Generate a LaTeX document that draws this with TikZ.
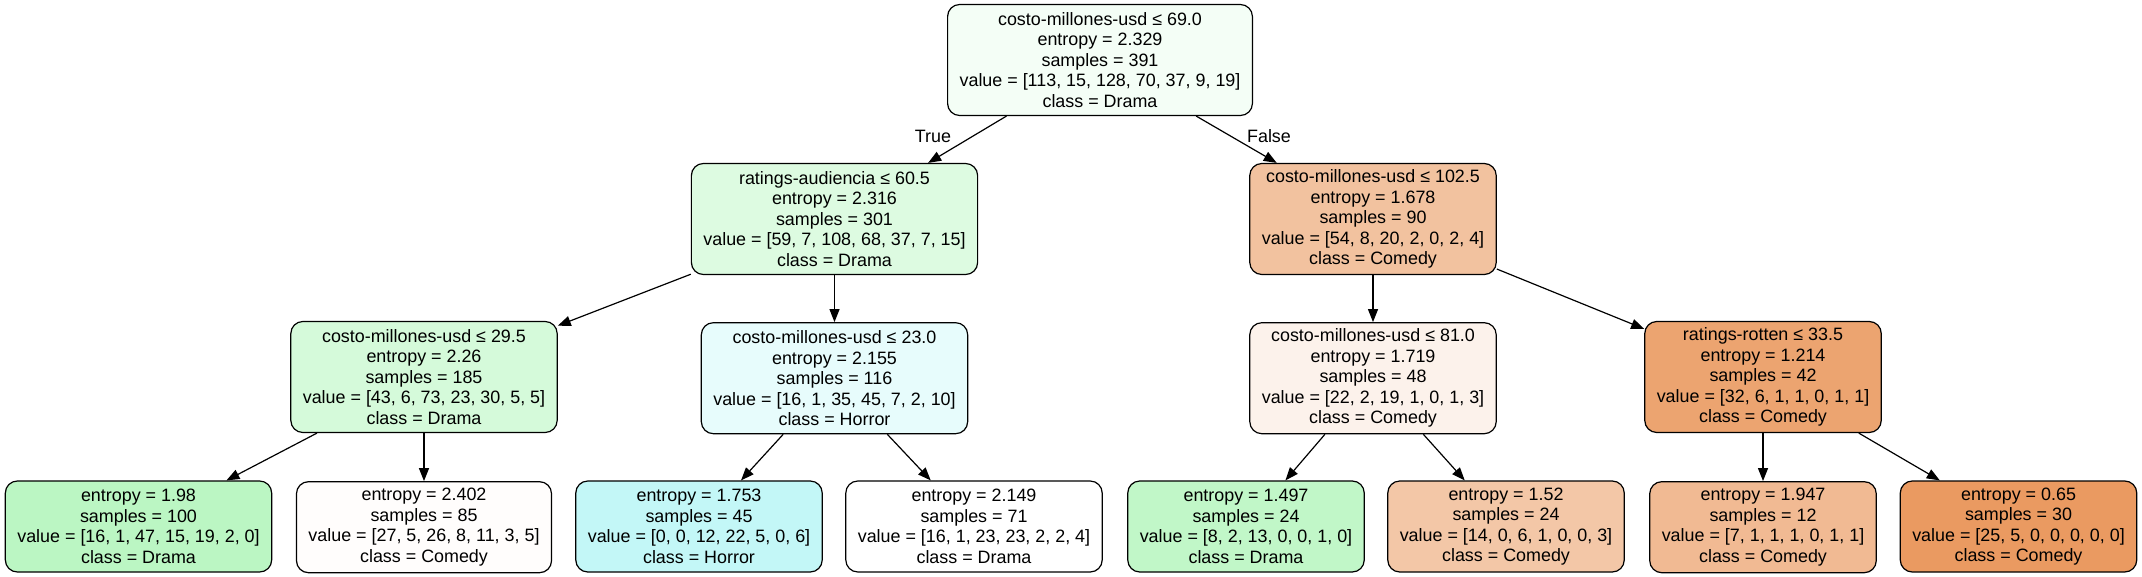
\documentclass[tikz,border=0pt]{standalone}
\usepackage{fontspec}
\setmainfont{Liberation Sans}
\usetikzlibrary{positioning,arrows.meta}
\definecolor{rootfill}{RGB}{244,254,246}
\definecolor{ratingsfill}{RGB}{221,251,225}
\definecolor{costoAfill}{RGB}{242,194,159}
\definecolor{costoBfill}{RGB}{213,250,218}
\definecolor{costoCfill}{RGB}{231,252,252}
\definecolor{costoDfill}{RGB}{252,242,235}
\definecolor{rottenfill}{RGB}{236,164,112}
\definecolor{leafAfill}{RGB}{187,246,195}
\definecolor{leafBfill}{RGB}{255,253,252}
\definecolor{leafCfill}{RGB}{195,247,247}
\definecolor{leafDfill}{RGB}{255,255,255}
\definecolor{leafEfill}{RGB}{193,247,200}
\definecolor{leafFfill}{RGB}{243,199,167}
\definecolor{leafGfill}{RGB}{241,186,147}
\definecolor{leafHfill}{RGB}{234,154,97}

\begin{document}
\begin{tikzpicture}[
        x=1pt, y=-1pt,
        node distance=47pt,
        >={Triangle[length=13pt,width=10pt]},
        line width=1.2pt,
        split/.style={draw, rounded corners=12pt, align=center, inner xsep=12pt, inner ysep=2pt,
            minimum height=111pt, font=\fontsize{17.9pt}{20.5pt}\selectfont},
        leaf/.style={split, minimum height=91pt},
        branch/.style={inner sep=0pt, font=\fontsize{17.9pt}{20.5pt}\selectfont},
    ]
    \useasboundingbox (0,0) rectangle (2142,577);
        \node[split, fill=rootfill] (costo69) at (1100,60) {costo-millones-usd ≤ 69.0\\entropy = 2.329\\samples = 391\\value = [113, 15, 128, 70, 37, 9, 19]\\class = Drama};
        \node[split, fill=ratingsfill] (ratings605) at (834.5,219) {ratings-audiencia ≤ 60.5\\entropy = 2.316\\samples = 301\\value = [59, 7, 108, 68, 37, 7, 15]\\class = Drama};
        \node[split, fill=costoAfill] (costo1025) at (1373,219) {costo-millones-usd ≤ 102.5\\entropy = 1.678\\samples = 90\\value = [54, 8, 20, 2, 0, 2, 4]\\class = Comedy};
        \node[split, fill=costoBfill] (costo295) at (424,377) {costo-millones-usd ≤ 29.5\\entropy = 2.26\\samples = 185\\value = [43, 6, 73, 23, 30, 5, 5]\\class = Drama};
        \node[split, fill=costoCfill, below = of ratings605] (costo230) {costo-millones-usd ≤ 23.0\\entropy = 2.155\\samples = 116\\value = [16, 1, 35, 45, 7, 2, 10]\\class = Horror};
        \node[split, fill=costoDfill, below = of costo1025] (costo810) {costo-millones-usd ≤ 81.0\\entropy = 1.719\\samples = 48\\value = [22, 2, 19, 1, 0, 1, 3]\\class = Comedy};
        \node[split, fill=rottenfill] (rotten335) at (1763,377) {ratings-rotten ≤ 33.5\\entropy = 1.214\\samples = 42\\value = [32, 6, 1, 1, 0, 1, 1]\\class = Comedy};
        % leaves
        \node[leaf, fill=leafAfill] (leafA) at (138.5,526.5) {entropy = 1.98\\samples = 100\\value = [16, 1, 47, 15, 19, 2, 0]\\class = Drama};
        \node[leaf, fill=leafBfill, below = 48pt of costo295] (leafB) {entropy = 2.402\\samples = 85\\value = [27, 5, 26, 8, 11, 3, 5]\\class = Comedy};
        \node[leaf, fill=leafCfill] (leafC) at (699,526.5) {entropy = 1.753\\samples = 45\\value = [0, 0, 12, 22, 5, 0, 6]\\class = Horror};
        \node[leaf, fill=leafDfill] (leafD) at (974,526.5) {entropy = 2.149\\samples = 71\\value = [16, 1, 23, 23, 2, 2, 4]\\class = Drama};
        \node[leaf, fill=leafEfill] (leafE) at (1246,526.5) {entropy = 1.497\\samples = 24\\value = [8, 2, 13, 0, 0, 1, 0]\\class = Drama};
        \node[leaf, fill=leafFfill] (leafF) at (1506,526.5) {entropy = 1.52\\samples = 24\\value = [14, 0, 6, 1, 0, 0, 3]\\class = Comedy};
        \node[leaf, fill=leafGfill, below = 48pt of rotten335] (leafG) {entropy = 1.947\\samples = 12\\value = [7, 1, 1, 1, 0, 1, 1]\\class = Comedy};
        \node[leaf, fill=leafHfill] (leafH) at (2018.5,526.5) {entropy = 0.65\\samples = 30\\value = [25, 5, 0, 0, 0, 0, 0]\\class = Comedy};
        \node[branch] (truelbl) at (933,136) {True};
        \node[branch] (falselbl) at (1269,136) {False};

    \path[->]
        (costo69) edge (ratings605)
        (costo69) edge (costo1025)
        (ratings605) edge (costo295)
        (ratings605) edge (costo230)
        (costo1025) edge (costo810)
        (costo1025) edge (rotten335)
        (costo295) edge (leafA)
        (costo295) edge (leafB)
        (costo230) edge (leafC)
        (costo230) edge (leafD)
        (costo810) edge (leafE)
        (costo810) edge (leafF)
        (rotten335) edge (leafG)
        (rotten335) edge (leafH)
        ;
\end{tikzpicture}
\end{document}
